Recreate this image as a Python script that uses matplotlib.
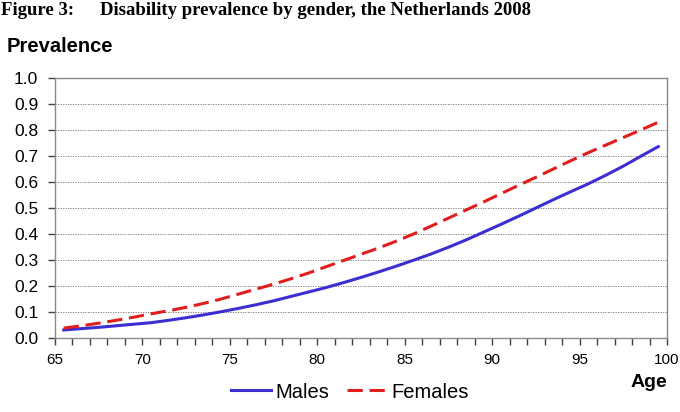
import matplotlib
matplotlib.use("Agg")
import matplotlib.pyplot as plt
import numpy as np

# DATOS
ages = list(range(65, 100))
males = [0.031, 0.036, 0.041, 0.047, 0.053, 0.059, 0.068, 0.078, 0.089, 0.101,
         0.114, 0.128, 0.143, 0.160, 0.177, 0.194, 0.213, 0.233, 0.254, 0.276,
         0.299, 0.323, 0.349, 0.377, 0.407, 0.437, 0.468, 0.500, 0.532, 0.563,
         0.593, 0.626, 0.661, 0.699, 0.736]
females = [0.038, 0.047, 0.057, 0.068, 0.080, 0.093, 0.105, 0.118, 0.133, 0.150,
           0.169, 0.188, 0.207, 0.228, 0.250, 0.274, 0.298, 0.322, 0.346, 0.372,
           0.400, 0.430, 0.461, 0.492, 0.523, 0.555, 0.587, 0.618, 0.650, 0.682,
           0.713, 0.742, 0.771, 0.800, 0.830]
x_ticks = list(range(65, 101, 5))
y_ticks = [round(0.1 * i, 1) for i in range(11)]

fig_label = "Figure 3:"
title = "Disability prevalence by gender, the Netherlands 2008"

plt.rcParams["font.family"] = ["Liberation Sans", "DejaVu Sans"]

fig = plt.figure(figsize=(6.8, 4.12), dpi=100)
ax = fig.add_axes([55 / 680, 1 - 338 / 412, 612 / 680, 260 / 412])

# puntos centrados entre marcas (estilo Excel)
xpos = np.array(ages) + 0.5
ax.plot(xpos, males, color="#3b2fd2", linewidth=2.2, label="Males")
ax.plot(xpos, females, color="#e01e1e", linewidth=2.2, dashes=(5, 2.2), label="Females")

ax.set_xlim(65, 100)
ax.set_ylim(0, 1.0)
ax.set_xticks(x_ticks)
ax.set_xticks(range(65, 101), minor=True)
ax.set_yticks(y_ticks)
ax.set_yticklabels([f"{v:.1f}" for v in y_ticks], fontsize=12.5)
ax.set_xticklabels([str(v) for v in x_ticks], fontsize=11)

for s in ax.spines.values():
    s.set_color("#8a8a8a")
    s.set_linewidth(1.0)
ax.tick_params(axis="both", which="both", color="#404040", length=5, width=1)
ax.tick_params(axis="y", pad=7)
ax.tick_params(axis="x", pad=6)
ax.grid(axis="y", color="#707070", linestyle=(0, (1.5, 1.5)), linewidth=0.6)
ax.set_axisbelow(True)

fig.legend(loc="center", bbox_to_anchor=(350 / 680, 1 - 392 / 412), ncol=2, frameon=False,
           fontsize=14.5, handlelength=2.0, handletextpad=0.2, columnspacing=0.9)

fig.text(1 / 680, 1 - 15 / 412, fig_label, fontsize=13.5, fontweight="bold",
         family="Liberation Serif", ha="left", va="baseline")
fig.text(100 / 680, 1 - 15 / 412, title, fontsize=13.5, fontweight="bold",
         family="Liberation Serif", ha="left", va="baseline")
fig.text(7 / 680, 1 - 52 / 412, "Prevalence", fontsize=14.5, fontweight="bold",
         ha="left", va="baseline")
fig.text(667 / 680, 1 - 387 / 412, "Age", fontsize=14, fontweight="bold",
         ha="right", va="baseline")

fig.savefig("out.png", dpi=100)
